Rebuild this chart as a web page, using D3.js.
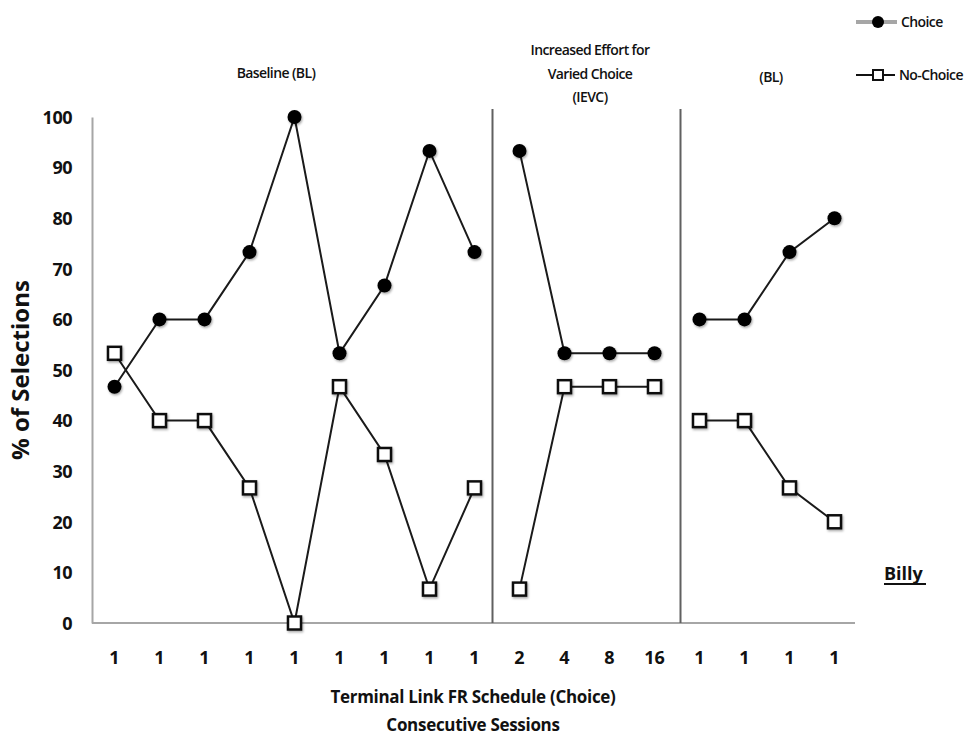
<!DOCTYPE html>
<html><head><meta charset="utf-8">
<script src="https://cdn.jsdelivr.net/npm/d3@7"></script>
<style>
body{margin:0;background:#fff;}
text{font-family:"Open Sans",sans-serif;fill:#111;}
</style></head>
<body><svg id="c" width="980" height="740"></svg>
<script>
const sessions = ["1","1","1","1","1","1","1","1","1","2","4","8","16","1","1","1","1"];
const phases = [[0,8],[9,12],[13,16]];
const choice = [46.7,60,60,73.3,100,53.3,66.7,93.3,73.3, 93.3,53.3,53.3,53.3, 60,60,73.3,80];
const noChoice = [53.3,40,40,26.7,0,46.7,33.3,6.7,26.7, 6.7,46.7,46.7,46.7, 40,40,26.7,20];
const yTicks = [0,10,20,30,40,50,60,70,80,90,100];

const svg = d3.select("#c");
const x = d3.scaleBand().domain(d3.range(sessions.length)).range([92,857]);
const xc = i => x(i) + x.bandwidth()/2;
const y = d3.scaleLinear().domain([0,100]).range([623,117]);

const defs = svg.append("defs");
const f = defs.append("filter").attr("id","sh").attr("x","-50%").attr("y","-50%").attr("width","200%").attr("height","200%");
f.append("feDropShadow").attr("dx",1).attr("dy",1.5).attr("stdDeviation",1.2).attr("flood-color","#000").attr("flood-opacity",0.35);

// axes
const yAxis = svg.append("g").attr("transform","translate(92,0)")
  .call(d3.axisLeft(y).tickValues(yTicks).tickSize(0).tickPadding(20));
yAxis.select(".domain").attr("stroke","#a6a6a6").attr("stroke-width",2);
yAxis.selectAll("text").attr("font-size",18).attr("font-weight","bold").attr("dy","0.35em").attr("letter-spacing","-0.5");

const xAxis = svg.append("g").attr("transform","translate(0,623)")
  .call(d3.axisBottom(x).tickFormat(i=>sessions[i]).tickSize(0).tickPadding(28));
xAxis.select(".domain").attr("stroke","#a6a6a6").attr("stroke-width",2).attr("d","M92,0H855");
xAxis.selectAll("text").attr("font-size",18).attr("font-weight","bold");

// phase lines
const pl = [xc(8)+18, xc(13)-19];
svg.selectAll(".pl").data(pl).enter().append("line")
  .attr("x1",d=>d).attr("x2",d=>d).attr("y1",109).attr("y2",623)
  .attr("stroke","#606060").attr("stroke-width",2);

// lines
const line = d3.line().x(d=>xc(d.i)).y(d=>y(d.v));
phases.forEach(([a,b])=>{
  const idx = d3.range(a,b+1);
  svg.append("path").attr("d",line(idx.map(i=>({i,v:choice[i]})))).attr("fill","none").attr("stroke","#1a1a1a").attr("stroke-width",2);
  svg.append("path").attr("d",line(idx.map(i=>({i,v:noChoice[i]})))).attr("fill","none").attr("stroke","#1a1a1a").attr("stroke-width",2);
});

// markers
svg.append("g").selectAll("rect").data(noChoice).enter().append("rect")
  .attr("x",(d,i)=>xc(i)-6.5).attr("y",d=>y(d)-6.5).attr("width",13).attr("height",13)
  .attr("fill","#fff").attr("stroke","#111").attr("stroke-width",2.5).attr("filter","url(#sh)");
svg.append("g").selectAll("circle").data(choice).enter().append("circle")
  .attr("cx",(d,i)=>xc(i)).attr("cy",d=>y(d)).attr("r",7)
  .attr("fill","#000").attr("filter","url(#sh)");

// phase labels
const lab = {"font-size":14,"font-weight":600,"letter-spacing":"-0.6"};
function styl(s){Object.entries(lab).forEach(([k,v])=>s.attr(k,v));return s;}
styl(svg.append("text").attr("x",276).attr("y",78).attr("text-anchor","middle")).text("Baseline (BL)");
const ie = styl(svg.append("text").attr("x",590).attr("text-anchor","middle"));
["Increased Effort for","Varied Choice","(IEVC)"].forEach((t,k)=>ie.append("tspan").attr("x",590).attr("y",55+k*23.5).text(t));
styl(svg.append("text").attr("x",771).attr("y",82).attr("text-anchor","middle")).text("(BL)");

// axis titles
svg.append("text").attr("x",473).attr("y",703).attr("text-anchor","middle").attr("font-size",17).attr("font-weight","bold").attr("letter-spacing","-0.3").text("Terminal Link FR Schedule (Choice)");
svg.append("text").attr("x",473).attr("y",731).attr("text-anchor","middle").attr("font-size",17).attr("font-weight","bold").attr("letter-spacing","-0.3").text("Consecutive Sessions");
svg.append("text").attr("transform","translate(29,370) rotate(-90)").attr("text-anchor","middle").attr("font-size",24).attr("font-weight","bold").attr("fill","#222").text("% of Selections");

// Billy
svg.append("text").attr("x",884).attr("y",580).attr("font-size",18).attr("font-weight","bold").text("Billy");
svg.append("line").attr("x1",884).attr("x2",926).attr("y1",584).attr("y2",584).attr("stroke","#111").attr("stroke-width",2);

// legend
const lg = svg.append("g");
lg.append("line").attr("x1",856).attr("x2",897).attr("y1",22).attr("y2",22).attr("stroke","#a6a6a6").attr("stroke-width",4);
lg.append("circle").attr("cx",878).attr("cy",22).attr("r",6).attr("fill","#000");
styl(lg.append("text").attr("x",901).attr("y",27)).text("Choice");
lg.append("line").attr("x1",856).attr("x2",895).attr("y1",75).attr("y2",75).attr("stroke","#111").attr("stroke-width",2);
lg.append("rect").attr("x",873).attr("y",70).attr("width",10).attr("height",10).attr("fill","#fff").attr("stroke","#111").attr("stroke-width",2);
styl(lg.append("text").attr("x",899).attr("y",80)).text("No-Choice");
</script></body></html>
